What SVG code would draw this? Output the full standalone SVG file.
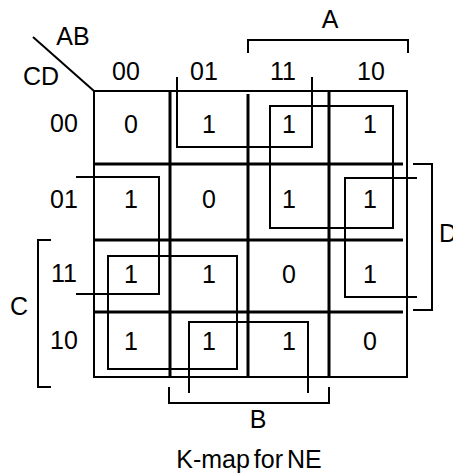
<svg xmlns="http://www.w3.org/2000/svg" width="453" height="475" viewBox="0 0 453 475">
<style>
text{font-family:"Liberation Sans",Arial,sans-serif;font-size:25px;fill:#000;text-anchor:middle}
.thin{stroke:#000;stroke-width:2;fill:none}
.thick{stroke:#000;stroke-width:3;fill:none}
</style>
<rect width="453" height="475" fill="#fff"/>
<g id="grid">
<rect class="thin" x="94" y="91" width="313" height="286"/>
<path class="thick" d="M170 92V377M248 94V377M329 92V377M95 164H403M95 240H403M95 312H403"/>
<path class="thin" d="M33 37L94 91"/>
</g>
<g id="labels">
<text x="73" y="45">AB</text>
<text x="41" y="85">CD</text>
<text x="126" y="80">00</text>
<text x="204" y="80">01</text>
<text x="283" y="80">11</text>
<text x="371" y="80">10</text>
<text x="64" y="132">00</text>
<text x="64" y="208">01</text>
<text x="64" y="282">11</text>
<text x="64" y="349">10</text>
</g>
<g id="cells">
<text x="131" y="133">0</text><text x="209" y="133">1</text><text x="289" y="133">1</text><text x="370" y="133">1</text>
<text x="131" y="208">1</text><text x="209" y="208">0</text><text x="289" y="208">1</text><text x="370" y="208">1</text>
<text x="131" y="283">1</text><text x="209" y="283">1</text><text x="289" y="283">0</text><text x="370" y="283">1</text>
<text x="131" y="350">1</text><text x="209" y="350">1</text><text x="289" y="350">1</text><text x="370" y="350">0</text>
</g>
<g id="loops">
<path class="thin" d="M177 77V147H312V77"/>
<path class="thin" d="M189 393V322H308V393"/>
<rect class="thin" x="270" y="106" width="123" height="122"/>
<path class="thin" d="M417 178H345V297H417"/>
<path class="thin" d="M76 177H159V294H76"/>
<rect class="thin" x="108" y="256" width="129" height="113"/>
</g>
<g id="brackets">
<path class="thin" d="M248 53V40H408V53"/>
<text x="330" y="28">A</text>
<path class="thin" d="M169 387V403H329V387"/>
<text x="258" y="428">B</text>
<path class="thin" d="M51 240H38V387H51"/>
<text x="19" y="315">C</text>
<path class="thin" d="M413 164H432V310H413"/>
<text x="448" y="242">D</text>
</g>
<text x="249" y="468" word-spacing="-3">K-map for NE</text>
</svg>
